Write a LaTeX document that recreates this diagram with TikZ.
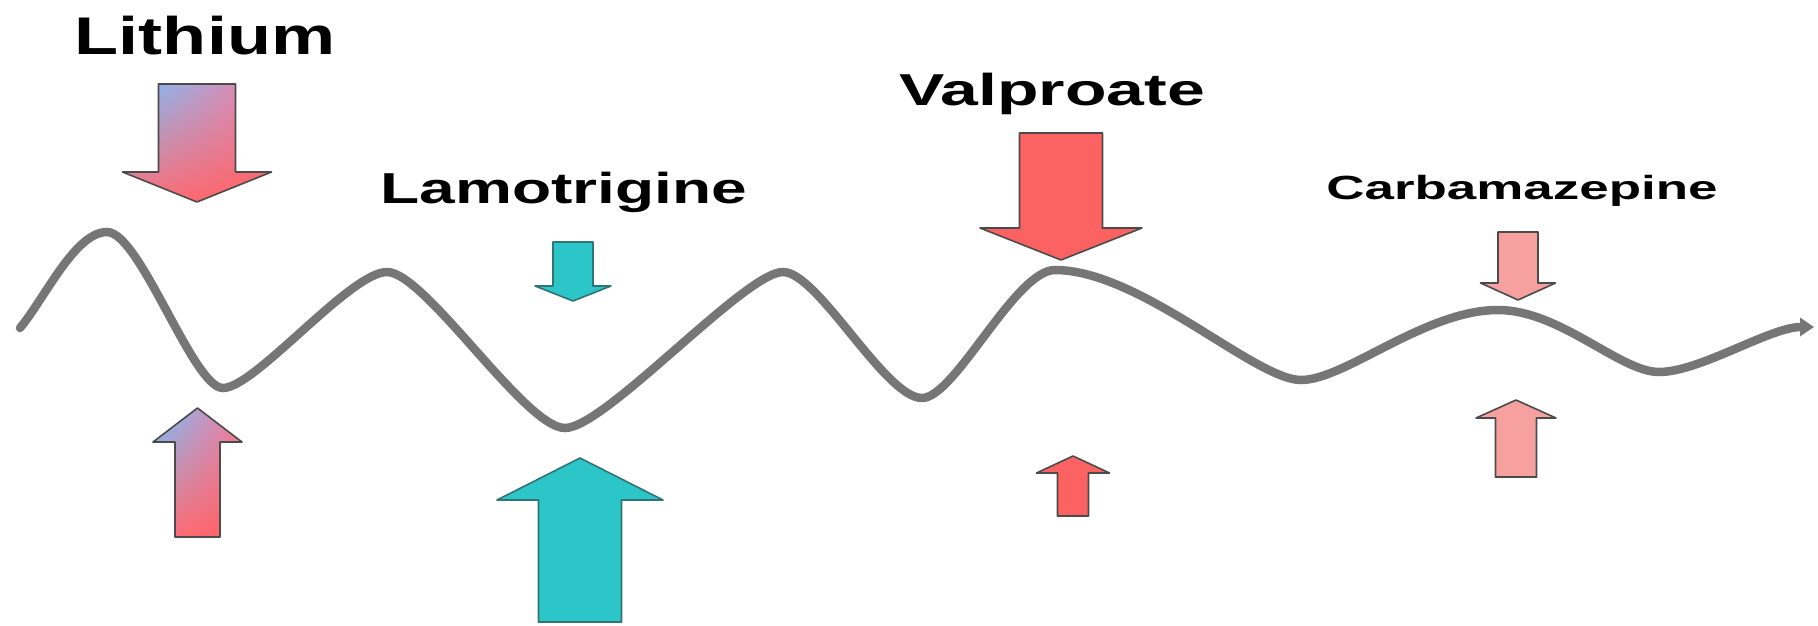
\documentclass[tikz,border=0pt]{standalone}
\usepackage{fontspec}
\setmainfont{Liberation Sans}
\usetikzlibrary{arrows.meta,shadings}
\definecolor{lblue}{RGB}{110,195,255}
\definecolor{lpink}{RGB}{248,125,160}
\definecolor{lredl}{RGB}{255,112,125}
\definecolor{lred}{RGB}{255,95,95}
\definecolor{tealc}{RGB}{44,198,200}
\definecolor{valred}{RGB}{252,98,98}
\definecolor{carbpink}{RGB}{246,160,160}
\definecolor{edgec}{RGB}{75,75,75}
\definecolor{wavec}{RGB}{118,118,118}
% #1 style, #2 centre x, #3 shaft half width, #4 head half width,
% #5 shaft end y, #6 head base y, #7 tip y
\newcommand{\BlockArr}[7]{%
  \path[#1] (#2-#3,#5) -- (#2+#3,#5) -- (#2+#3,#6) -- (#2+#4,#6) -- (#2,#7)
    -- (#2-#4,#6) -- (#2-#3,#6) -- cycle;}
\tikzset{
  arrbox/.style={draw=edgec, line width=1.6pt, line join=round},
  lithbox/.style={arrbox, upper left=lblue, upper right=lpink, lower left=lredl, lower right=lred},
  tealbox/.style={arrbox, fill=tealc, draw={rgb,255:red,50;green,115;blue,115}},
  valbox/.style={arrbox, fill=valred},
  carbbox/.style={arrbox, fill=carbpink},
  drug/.style={inner sep=0pt, anchor=base, font=\bfseries},
  wave/.style={draw=wavec, line width=8.5pt, line cap=round, -{Triangle[length=14pt,width=18pt]}}
}
\begin{document}
\begin{tikzpicture}[x=1pt,y=-1pt]
\useasboundingbox (0,0) rectangle (1818,626);
% texts
\node[drug] (lith) at (205,55) {\scalebox{1.36}[1]{\fontsize{53}{60}\selectfont Lithium}};
\node[drug] (lamo) at (564,203) {\scalebox{1.48}[1]{\fontsize{43.3}{50}\selectfont Lamotrigine}};
\node[drug] (valp) at (1052,105) {\scalebox{1.52}[1]{\fontsize{44.7}{50}\selectfont Valproate}};
\node[drug] (carb) at (1522,199) {\scalebox{1.58}[1]{\fontsize{33.5}{40}\selectfont Carbamazepine}};
% wave
\coordinate (s) at (20,328);
\coordinate (p1) at (107,232);
\coordinate (t1) at (223,388);
\coordinate (p2) at (387,272);
\coordinate (t2) at (565,428);
\coordinate (p3) at (783,272);
\coordinate (t3) at (922,398);
\coordinate (p4) at (1055,270);
\coordinate (t4) at (1301,380);
\coordinate (p5) at (1498,310);
\coordinate (t5) at (1659,372);
\coordinate (e) at (1814,327);
\draw[wave] (s) .. controls (45,298) and (75,232) .. (p1)
  .. controls (140,232) and (193,388) .. (t1)
  .. controls (255,388) and (350,272) .. (p2)
  .. controls (425,272) and (525,428) .. (t2)
  .. controls (605,428) and (745,272) .. (p3)
  .. controls (818,272) and (885,398) .. (t3)
  .. controls (955,398) and (1015,270) .. (p4)
  .. controls (1140,270) and (1255,380) .. (t4)
  .. controls (1345,380) and (1425,310) .. (p5)
  .. controls (1560,310) and (1620,372) .. (t5)
  .. controls (1700,372) and (1770,327) .. (e);
% Lithium arrows
\BlockArr{lithbox}{197}{38.5}{74.5}{84}{172}{202}
\BlockArr{lithbox}{197.5}{22.5}{44.5}{537}{442}{408}
% Lamotrigine arrows
\BlockArr{tealbox}{573}{20}{38}{242}{286}{301}
\BlockArr{tealbox}{580}{41.5}{83}{622}{500}{458}
% Valproate arrows
\BlockArr{valbox}{1061}{41.5}{81}{133}{228}{260}
\BlockArr{valbox}{1073}{15.5}{36.5}{516}{473}{456}
% Carbamazepine arrows
\BlockArr{carbbox}{1518}{20}{37.5}{232}{283}{300}
\BlockArr{carbbox}{1516}{20.5}{40}{477}{418}{400}
\end{tikzpicture}
\end{document}
